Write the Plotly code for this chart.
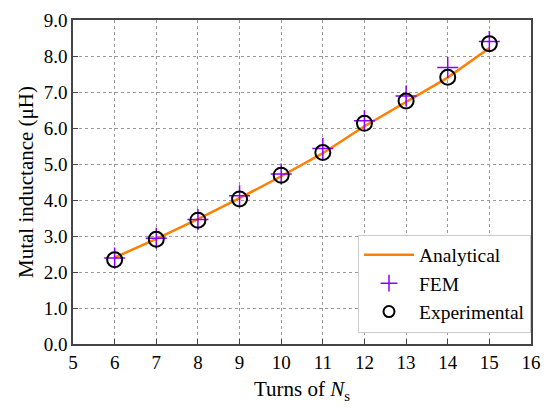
import plotly.graph_objects as go

turns = [6, 7, 8, 9, 10, 11, 12, 13, 14, 15]
analytical = [2.40, 2.92, 3.47, 4.05, 4.66, 5.30, 6.05, 6.72, 7.40, 8.22]
fem = [2.39, 2.94, 3.46, 4.12, 4.72, 5.43, 6.20, 6.89, 7.68, 8.40]
experimental = [2.34, 2.91, 3.44, 4.03, 4.69, 5.32, 6.13, 6.75, 7.41, 8.34]

font_family = "Liberation Serif"
fem_color = "#8B00FF"

fig = go.Figure()
fig.add_trace(go.Scatter(x=turns, y=analytical, mode="lines", name="Analytical",
                         line=dict(color="#FF7F00", width=2.5)))
fig.add_trace(go.Scatter(x=turns, y=fem, mode="markers", name="FEM", showlegend=False,
                         legendgroup="fem",
                         marker=dict(symbol="cross-thin-open", size=15, color=fem_color,
                                     line=dict(color=fem_color, width=1.5))))
fig.add_trace(go.Scatter(x=turns, y=experimental, mode="markers", name="Experimental",
                         showlegend=False, legendgroup="exp",
                         marker=dict(symbol="circle-open", size=15, color="black",
                                     line=dict(color="black", width=2))))
# legend entries (smaller symbols, as in the reference legend)
fig.add_trace(go.Scatter(x=[None], y=[None], mode="markers", name="FEM", legendgroup="fem",
                         marker=dict(symbol="cross-thin-open", size=12, color=fem_color,
                                     line=dict(color=fem_color, width=1.5))))
fig.add_trace(go.Scatter(x=[None], y=[None], mode="markers", name="Experimental", legendgroup="exp",
                         marker=dict(symbol="circle-open", size=11, color="black",
                                     line=dict(color="black", width=2))))

axis_common = dict(showline=True, linecolor="#444444", linewidth=1.5, mirror=True,
                   ticks="inside", ticklen=5, tickcolor="#444444",
                   showgrid=True, gridcolor="#999999", griddash="dot", gridwidth=1,
                   zeroline=False, tickfont=dict(family=font_family, size=19, color="black"))

fig.update_layout(
    width=551, height=410,
    margin=dict(l=73, r=10, t=16, b=66),
    paper_bgcolor="white", plot_bgcolor="white",
    font=dict(family=font_family, size=19, color="black"),
    xaxis=dict(range=[5, 16], dtick=1, tick0=5,
               title=dict(text="Turns of <i>N</i><sub>s</sub>", font=dict(family=font_family, size=21), standoff=10),
               **axis_common),
    yaxis=dict(range=[0, 9], dtick=1, tick0=0, tickformat=".1f",
               title=dict(text="Mutal inductance (μH)", font=dict(family=font_family, size=21), standoff=4),
               **axis_common),
    legend=dict(x=1.0, y=0.035, xanchor="right", yanchor="bottom",
                bgcolor="white", bordercolor="#CCCCCC", borderwidth=1,
                font=dict(family=font_family, size=19.5), tracegroupgap=0,
                itemwidth=50),
    showlegend=True,
)

fig.write_html("out.html")
